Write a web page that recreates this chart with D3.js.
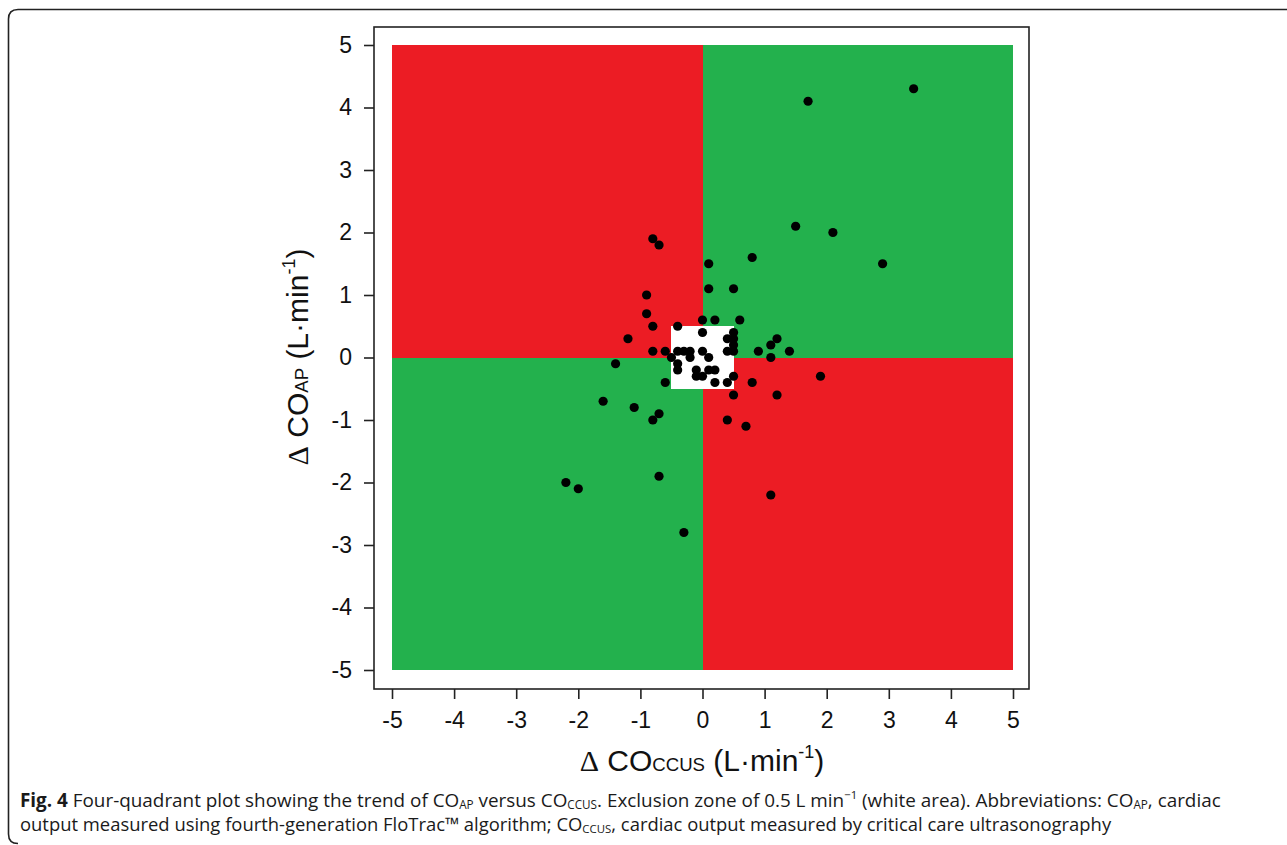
<!DOCTYPE html>
<html>
<head>
<meta charset="utf-8">
<script src="https://cdn.jsdelivr.net/npm/d3@7"></script>
<style>
  body { margin: 0; background: #fff; }
  svg { display: block; }
</style>
</head>
<body>
<div id="chart"></div>
<script>
// values (L/min)
const ccus = [-0.9, 0.1, 0.5, -0.9, -0.8, 0, 0.2, 0.6, -0.4, 0, 0.5, -1.2, 0.4, 0.5, 0.5, 1.2, 1.1,
  -0.8, -0.6, -0.4, -0.3, -0.2, 0, 0.4, 0.5, 0.9, 1.4, -0.5, -0.2, 0.1, 1.1,
  -1.4, -0.4, -0.4, -0.1, 0.1, 0.2, -0.1, 0, 0.5, -0.6, 0.2, 0.4, 0.8, 1.9, 0.5, 1.2,
  -1.6, -1.1, -0.7, -0.8, 0.4, 0.7, -0.8, -0.7, 0.1, 0.8, 1.5, 2.1, 2.9, 1.7, 3.4,
  -2.2, -2.0, -0.7, -0.3, 1.1];
const ap = [1.0, 1.1, 1.1, 0.7, 0.5, 0.6, 0.6, 0.6, 0.5, 0.4, 0.4, 0.3, 0.3, 0.3, 0.2, 0.3, 0.2,
  0.1, 0.1, 0.1, 0.1, 0.1, 0.1, 0.1, 0.1, 0.1, 0.1, 0, 0, 0, 0,
  -0.1, -0.1, -0.2, -0.2, -0.2, -0.2, -0.3, -0.3, -0.3, -0.4, -0.4, -0.4, -0.4, -0.3, -0.6, -0.6,
  -0.7, -0.8, -0.9, -1.0, -1.0, -1.1, 1.9, 1.8, 1.5, 1.6, 2.1, 2.0, 1.5, 4.1, 4.3,
  -2.0, -2.1, -1.9, -2.8, -2.2];
const ticks = [-5, -4, -3, -2, -1, 0, 1, 2, 3, 4, 5];
const exclusion = 0.5;
const quadrants = [
  { x0: -5, x1: 0, y0: 0, y1: 5, agree: false },
  { x0: 0, x1: 5, y0: 0, y1: 5, agree: true },
  { x0: -5, x1: 0, y0: -5, y1: 0, agree: true },
  { x0: 0, x1: 5, y0: -5, y1: 0, agree: false }
];

const width = 1287, height = 845;
const red = "#ec1c24", green = "#23b14d";
const sans = "'Liberation Sans', Arial, sans-serif";
const serif = "'Liberation Serif', 'Times New Roman', serif";

const svg = d3.select("#chart").append("svg")
  .attr("width", width).attr("height", height);

// outer figure frame
svg.append("path")
  .attr("d", "M1287,9.5 H18 Q8.5,9.5 8.5,19 V834 Q8.5,843.5 18,843.5")
  .attr("fill", "none").attr("stroke", "#222").attr("stroke-width", 1.6);

const x = d3.scaleLinear().domain([-5, 5]).range([392, 1013]);
const y = d3.scaleLinear().domain([-5, 5]).range([670, 45]);

const g = svg.append("g");

g.selectAll("rect.quad")
  .data(quadrants)
  .enter()
  .append("rect")
  .attr("class", "quad")
  .attr("x", d => x(d.x0))
  .attr("y", d => y(d.y1))
  .attr("width", d => x(d.x1) - x(d.x0))
  .attr("height", d => y(d.y0) - y(d.y1))
  .attr("fill", d => d.agree ? green : red)
  .attr("shape-rendering", "crispEdges");

g.append("rect")
  .attr("x", x(-exclusion))
  .attr("y", y(exclusion))
  .attr("width", x(exclusion) - x(-exclusion))
  .attr("height", y(-exclusion) - y(exclusion))
  .attr("fill", "#fff")
  .attr("shape-rendering", "crispEdges");

g.selectAll("circle")
  .data(ccus.map((v, i) => [v, ap[i]]))
  .enter()
  .append("circle")
  .attr("cx", d => x(d[0]))
  .attr("cy", d => y(d[1]))
  .attr("r", 4.6)
  .attr("fill", "#000");

// plot box
const box = { left: 374, right: 1029, top: 27, bottom: 689 };
svg.append("rect")
  .attr("x", box.left).attr("y", box.top)
  .attr("width", box.right - box.left).attr("height", box.bottom - box.top)
  .attr("fill", "none").attr("stroke", "#222").attr("stroke-width", 1.6);

const yAxis = svg.append("g")
  .attr("transform", `translate(${box.left},0)`)
  .call(d3.axisLeft(y).tickValues(ticks).tickFormat(d => String(d)).tickSize(10).tickPadding(12));
const xAxis = svg.append("g")
  .attr("transform", `translate(0,${box.bottom})`)
  .call(d3.axisBottom(x).tickValues(ticks).tickFormat(d => String(d)).tickSize(10).tickPadding(12));

[yAxis, xAxis].forEach(a => {
  a.select(".domain").remove();
  a.selectAll(".tick line").attr("stroke", "#222").attr("stroke-width", 1.6);
  a.selectAll(".tick text").attr("fill", "#111")
    .style("font-family", sans).style("font-size", "23px");
});
xAxis.selectAll(".tick text").attr("dy", "0.72em");

// rich text helper: parts are [text, kind]
function rich(sel, parts, size, subShift) {
  parts.forEach(([t, kind]) => {
    const ts = sel.append("tspan").text(t);
    if (kind === "sub") {
      ts.style("font-size", size * 0.62 + "px");
      if (subShift) ts.attr("baseline-shift", subShift);
    }
    if (kind === "sup") ts.style("font-size", size * 0.6 + "px").attr("baseline-shift", "70%");
    if (kind === "serif") ts.style("font-family", serif);
    if (kind === "bold") ts.style("font-weight", "bold");
  });
  return sel;
}

const ySize = 30;
rich(svg.append("text")
  .attr("transform", "translate(308,357) rotate(-90)")
  .attr("text-anchor", "middle")
  .style("font-family", sans).style("font-size", ySize + "px").attr("fill", "#111"),
  [["Δ", "serif"], [" CO", ""], ["AP", "sub"], [" (L·min", ""], ["-1", "sup"], [")", ""]], ySize);

const xSize = 30;
rich(svg.append("text")
  .attr("x", 702).attr("y", 771)
  .attr("text-anchor", "middle")
  .style("font-family", sans).style("font-size", xSize + "px").attr("fill", "#111"),
  [["Δ", "serif"], [" CO", ""], ["CCUS", "sub"], [" (L·min", ""], ["-1", "sup"], [")", ""]], xSize);

// caption
const capFont = "'Open Sans', 'Noto Sans', sans-serif";
const capLines = [
  { y: 807, target: 1202, parts: [["Fig. 4", "bold"], [" Four-quadrant plot showing the trend of CO", ""], ["AP", "sub"],
    [" versus CO", ""], ["CCUS", "sub"], [". Exclusion zone of 0.5 L min", ""], ["−1", "sup"], [" (white area). Abbreviations: CO", ""],
    ["AP", "sub"], [", cardiac", ""]] },
  { y: 831, target: 1092, parts: [["output measured using fourth-generation FloTrac™ algorithm; CO", ""], ["CCUS", "sub"],
    [", cardiac output measured by critical care ultrasonography", ""]] }
];
capLines.forEach(line => {
  let size = 16;
  const t = svg.append("text").attr("x", 20).attr("y", line.y)
    .style("font-family", capFont).style("font-size", size + "px").attr("fill", "#1a1a1a");
  rich(t, line.parts, size, "-15%");
  const w = t.node().getComputedTextLength();
  size = size * line.target / w;
  t.selectAll("*").remove();
  t.style("font-size", size + "px");
  rich(t, line.parts, size, "-15%");
});
</script>
</body>
</html>
